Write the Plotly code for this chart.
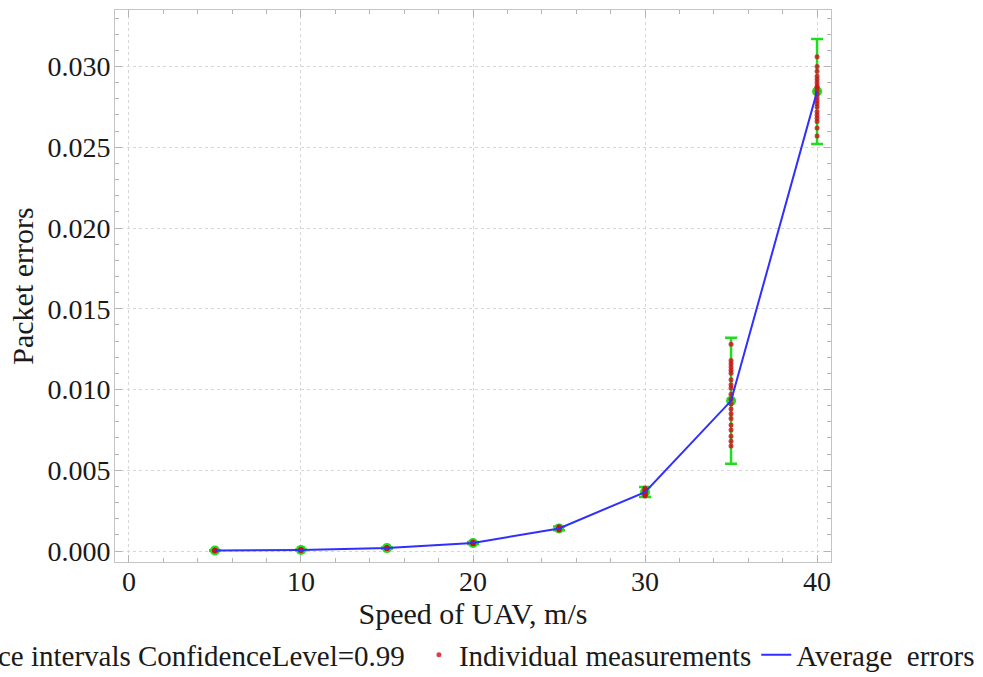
import plotly.graph_objects as go

# ---------------- data ----------------
speeds = [5, 10, 15, 20, 25, 30, 35, 40]
avg_errors = [0.00003, 0.00007, 0.00018, 0.00050, 0.00140, 0.00365, 0.0093, 0.02846]
ci_low = [0.00001, 0.00004, 0.00014, 0.00044, 0.00128, 0.00334, 0.0054, 0.0252]
ci_high = [0.00005, 0.00010, 0.00022, 0.00056, 0.00152, 0.00396, 0.0132, 0.0317]

meas_5 = [0.00001, 0.00002, 0.00002, 0.00003, 0.00003, 0.00003, 0.00004, 0.00004, 0.00005, 0.00003]
meas_10 = [0.00005, 0.00006, 0.00006, 0.00007, 0.00007, 0.00007, 0.00008, 0.00008, 0.00009, 0.00007]
meas_15 = [0.00015, 0.00016, 0.00017, 0.00018, 0.00018, 0.00019, 0.00019, 0.00020, 0.00021, 0.00018]
meas_20 = [0.00045, 0.00047, 0.00048, 0.00049, 0.00050, 0.00050, 0.00051, 0.00052, 0.00054, 0.00055]
meas_25 = [0.00130, 0.00133, 0.00136, 0.00138, 0.00140, 0.00141, 0.00143, 0.00145, 0.00147, 0.00150]
meas_30 = [0.00340, 0.00345, 0.00350, 0.00355, 0.00360, 0.00365, 0.00370, 0.00375, 0.00382, 0.00390]
meas_35 = [0.0128, 0.0118, 0.0116, 0.0114, 0.0112, 0.0110, 0.0106, 0.0103, 0.0101, 0.0097,
           0.0094, 0.0091, 0.0088, 0.0085, 0.0082, 0.0078, 0.0075, 0.0071, 0.0068, 0.0065]
meas_40 = [0.0306, 0.0300, 0.0297, 0.0294, 0.0292, 0.0290, 0.0288, 0.0287, 0.0285, 0.0283,
           0.0281, 0.0279, 0.0277, 0.0275, 0.0272, 0.0270, 0.0268, 0.0266, 0.0262, 0.0257]

x_ticks = [0, 10, 20, 30, 40]
y_ticks = [0.000, 0.005, 0.010, 0.015, 0.020, 0.025, 0.030]

# ---------------- build ----------------
all_meas = [meas_5, meas_10, meas_15, meas_20, meas_25, meas_30, meas_35, meas_40]
mx, my = [], []
for s, vals in zip(speeds, all_meas):
    mx += [s] * len(vals)
    my += vals

err_plus = [h - m for h, m in zip(ci_high, avg_errors)]
err_minus = [m - l for m, l in zip(avg_errors, ci_low)]

FONT = "Liberation Serif, Times New Roman, serif"
GREEN = "#1fdc1f"
RED = "#d0101c"
BLUE = "#2f2fff"
FRAME = "#c4c4c4"
GRID = "#d6d6d6"
TXT = "#1a1a1a"

fig = go.Figure()

fig.add_trace(go.Scatter(
    x=speeds, y=avg_errors, mode="markers",
    name="Confidence intervals ConfidenceLevel=0.99",
    marker=dict(color=GREEN, size=10),
    error_y=dict(type="data", symmetric=False, array=err_plus, arrayminus=err_minus,
                 color=GREEN, thickness=2.5, width=6),
    legend="legend2",
))

fig.add_trace(go.Scatter(
    x=mx, y=my, mode="markers", name="Individual measurements",
    marker=dict(color=RED, size=5, opacity=0.8),
))

fig.add_trace(go.Scatter(
    x=speeds, y=avg_errors, mode="lines", name="Average  errors",
    line=dict(color=BLUE, width=2),
))

axis_common = dict(
    showline=True, linecolor=FRAME, linewidth=1, mirror="allticks",
    ticks="inside", ticklen=7, tickcolor="#b4b4b4", tickwidth=1,
    showgrid=True, gridcolor=GRID, griddash="dot", gridwidth=1,
    zeroline=False,
    tickfont=dict(family=FONT, size=28, color=TXT),
    title_font=dict(family=FONT, size=30, color=TXT),
)

fig.update_xaxes(
    **axis_common,
    range=[-0.81, 40.81], tickvals=x_ticks,
    ticktext=[str(v) for v in x_ticks],
    minor=dict(dtick=2, ticklen=4, tickcolor="#b4b4b4", ticks="inside", showgrid=False),
    ticklabelstandoff=-6,
    title=dict(text="Speed of UAV, m/s", standoff=0),
)
fig.update_yaxes(
    **axis_common,
    range=[-0.00068, 0.0335], tickvals=y_ticks,
    ticktext=[f"{v:.3f}" for v in y_ticks],
    minor=dict(dtick=0.001, ticklen=4, tickcolor="#b4b4b4", ticks="inside", showgrid=False),
    ticklabelstandoff=-2,
    title=dict(text="Packet errors", standoff=4),
)

LEG_Y = -0.1685
fig.update_layout(
    width=983, height=677,
    margin=dict(l=115, r=152, t=10, b=115, autoexpand=False),
    plot_bgcolor="white", paper_bgcolor="white",
    font=dict(family=FONT, size=28, color=TXT),
    showlegend=True,
    legend=dict(orientation="h", xanchor="right", x=1.208, yanchor="middle", y=LEG_Y,
                font=dict(family=FONT, size=29, color=TXT),
                bgcolor="rgba(0,0,0,0)", itemwidth=30, tracegroupgap=0),
    legend2=dict(orientation="h", xanchor="right", x=0.412, yanchor="middle", y=LEG_Y,
                 font=dict(family=FONT, size=29, color=TXT),
                 bgcolor="rgba(0,0,0,0)", itemwidth=30),
)

fig.write_html("out.html")
